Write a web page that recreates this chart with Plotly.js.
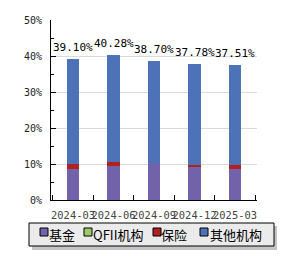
<!DOCTYPE html>
<html>
<head>
<meta charset="utf-8">
<script src="https://cdn.plot.ly/plotly-3.0.1.min.js"></script>
<style>html,body{margin:0;padding:0;background:#fff;}#chart{width:300px;height:260px;}</style>
</head>
<body>
<div id="chart"></div>
<script>
const categories = ['2024-03', '2024-06', '2024-09', '2024-12', '2025-03'];
const fund = [8.7, 9.4, 10.2, 9.25, 8.6];
const qfii = [0, 0, 0, 0, 0];
const insurance = [1.3, 1.2, 0, 0.55, 1.2];
const others = [29.1, 29.68, 28.5, 27.98, 27.71];
const totals = [39.10, 40.28, 38.70, 37.78, 37.51];
const totalLabels = ['39.10%', '40.28%', '38.70%', '37.78%', '37.51%'];
const seriesNames = ['基金', 'QFII机构', '保险', '其他机构'];
const seriesColors = ['#7262AA', '#9ACD6A', '#B0221E', '#4E72B8'];

const W = 300, H = 260;
const M = {l: 51, r: 43, t: 20, b: 60};
const PW = W - M.l - M.r, PH = H - M.t - M.b;
const px = x => (x - M.l) / PW;
const py = y => (H - M.b - y) / PH;

const seriesValues = [fund, qfii, insurance, others];
const traces = seriesValues.map((vals, i) => ({
  type: 'bar', x: categories, y: vals, name: seriesNames[i],
  marker: {color: seriesColors[i], line: {width: 0}},
  showlegend: false, hoverinfo: 'skip'
}));

const annotations = [];
// total labels above bars
categories.forEach((c, i) => {
  annotations.push({xref: 'x', yref: 'y', x: c, y: totals[i], yanchor: 'bottom', yshift: 3,
    showarrow: false, text: totalLabels[i],
    font: {family: 'DejaVu Sans Mono', size: 11, color: '#000'}});
});

// custom legend
const legendSquaresX = [40, 84, 153, 200];
const legendTextX = [47, 91, 159, 208];
const shapes = [
  {type: 'rect', xref: 'paper', yref: 'paper', x0: px(32), x1: px(277), y0: py(250), y1: py(226),
   fillcolor: '#C4C4C4', line: {width: 0}},
  {type: 'rect', xref: 'paper', yref: 'paper', x0: px(29), x1: px(274), y0: py(246), y1: py(223),
   fillcolor: '#EBEBEB', line: {color: '#000', width: 1}}
];
seriesNames.forEach((n, i) => {
  shapes.push({type: 'rect', xref: 'paper', yref: 'paper',
    x0: px(legendSquaresX[i]), x1: px(legendSquaresX[i] + 8), y0: py(236), y1: py(228),
    fillcolor: seriesColors[i], line: {color: '#000', width: 1}});
  annotations.push({xref: 'paper', yref: 'paper', x: px(legendTextX[i]), y: py(234),
    xanchor: 'left', yanchor: 'middle', showarrow: false, text: n,
    font: {family: 'Noto Sans CJK SC', size: 13, color: '#000'}});
});

const layout = {
  width: W, height: H, margin: M,
  paper_bgcolor: '#fff', plot_bgcolor: '#fff',
  barmode: 'stack', bargap: 0.685, showlegend: false,
  xaxis: {
    type: 'category', showline: true, linecolor: '#000', linewidth: 1,
    ticks: 'inside', tickson: 'boundaries', ticklen: 5, tickcolor: '#000', tickangle: 0,
    tickfont: {family: 'DejaVu Sans Mono', size: 10.4, color: '#444'},
    ticklabelstandoff: 6, showgrid: false, zeroline: false
  },
  yaxis: {
    range: [0, 50], dtick: 10, ticksuffix: '%', showgrid: true, gridcolor: '#DADADA',
    showline: true, linecolor: '#000', linewidth: 1, ticks: 'inside', ticklen: 5, tickcolor: '#000',
    minor: {dtick: 5, ticks: 'inside', ticklen: 3, tickcolor: '#000', showgrid: false},
    tickfont: {family: 'DejaVu Sans Mono', size: 10, color: '#222'},
    ticklabelstandoff: 6, zeroline: false
  },
  shapes: shapes, annotations: annotations
};
Plotly.newPlot('chart', traces, layout, {staticPlot: true, displayModeBar: false});
</script>
</body>
</html>
